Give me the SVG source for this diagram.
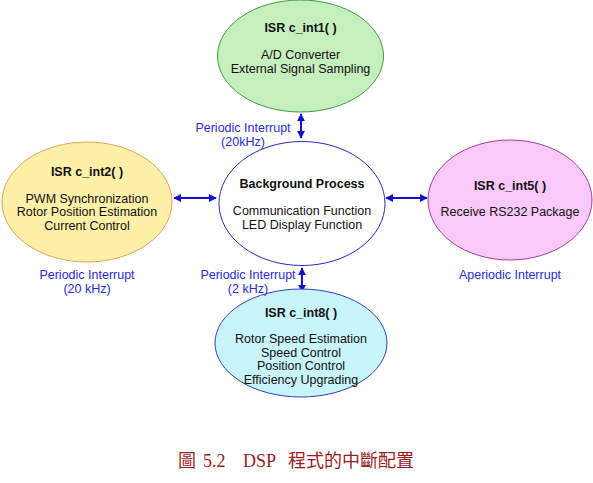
<svg xmlns="http://www.w3.org/2000/svg" width="593" height="483" viewBox="0 0 593 483">
<defs>
<marker id="ah" viewBox="0 0 10 10" refX="9" refY="5" markerWidth="8" markerHeight="8" markerUnits="userSpaceOnUse" orient="auto-start-reverse">
<path d="M0,0 L10,5 L0,10 z" fill="#1010d0"/>
</marker>
<style>
.t{font-family:"Liberation Sans",Arial,sans-serif;font-size:12.5px;fill:#111;text-anchor:middle}
.b{font-weight:bold}
.lbl{font-family:"Liberation Sans",Arial,sans-serif;font-size:12.5px;fill:#2a2ad8;text-anchor:middle}
.c{stroke:#1010d0;stroke-width:2;fill:none;marker-start:url(#ah);marker-end:url(#ah)}
</style>
</defs>
<rect width="593" height="483" fill="#fff"/>
<g id="connectors">
<line class="c" x1="301" y1="114" x2="301" y2="138"/>
<line class="c" x1="174" y1="198" x2="216" y2="198"/>
<line class="c" x1="386" y1="198" x2="427" y2="198"/>
<line class="c" x1="302" y1="268" x2="302" y2="292"/>
</g>
<g id="isr1">
<ellipse cx="300.5" cy="56" rx="83" ry="56" fill="#c6efbe" stroke="#3e9a3e" stroke-width="1"/>
<text class="t b" x="300.5" y="32">ISR c_int1( )</text>
<text class="t" x="300.5" y="59">A/D Converter</text>
<text class="t" x="300.5" y="73">External Signal Sampling</text>
</g>
<g id="isr2">
<ellipse cx="87" cy="202" rx="85" ry="60" fill="#fff0a8" stroke="#e8a060" stroke-width="1"/>
<text class="t b" x="87" y="176">ISR c_int2( )</text>
<text class="t" x="87" y="203">PWM Synchronization</text>
<text class="t" x="87" y="216">Rotor Position Estimation</text>
<text class="t" x="87" y="230">Current Control</text>
</g>
<g id="bg">
<ellipse cx="302" cy="203.5" rx="83" ry="62" fill="#fff" stroke="#2a2ac0" stroke-width="1"/>
<text class="t b" x="302" y="188">Background Process</text>
<text class="t" x="302" y="215">Communication Function</text>
<text class="t" x="302" y="229">LED Display Function</text>
</g>
<g id="isr5">
<ellipse cx="510" cy="200" rx="82" ry="60" fill="#f9c9f9" stroke="#a040a0" stroke-width="1"/>
<text class="t b" x="510" y="190">ISR c_int5( )</text>
<text class="t" x="510" y="216">Receive RS232 Package</text>
</g>
<g id="isr8">
<ellipse cx="301" cy="343" rx="86" ry="54" fill="#c8f4fc" stroke="#3040c0" stroke-width="1"/>
<text class="t b" x="301" y="317">ISR c_int8( )</text>
<text class="t" x="301" y="343">Rotor Speed Estimation</text>
<text class="t" x="301" y="357">Speed Control</text>
<text class="t" x="301" y="370">Position Control</text>
<text class="t" x="301" y="384">Efficiency Upgrading</text>
</g>
<g id="labels">
<text class="lbl" x="243" y="132">Periodic Interrupt</text>
<text class="lbl" x="243" y="146">(20kHz)</text>
<text class="lbl" x="87" y="279">Periodic Interrupt</text>
<text class="lbl" x="87" y="293">(20 kHz)</text>
<text class="lbl" x="248" y="279">Periodic Interrupt</text>
<text class="lbl" x="248" y="293">(2 kHz)</text>
<text class="lbl" x="510" y="279">Aperiodic Interrupt</text>
</g>
<text y="467" font-family="'Liberation Serif','Noto Sans CJK TC',serif" font-size="18" fill="#9a1c1c"><tspan x="178">圖</tspan><tspan x="203">5.2</tspan><tspan x="243">DSP</tspan><tspan x="288">程式的中斷配置</tspan></text>
</svg>
